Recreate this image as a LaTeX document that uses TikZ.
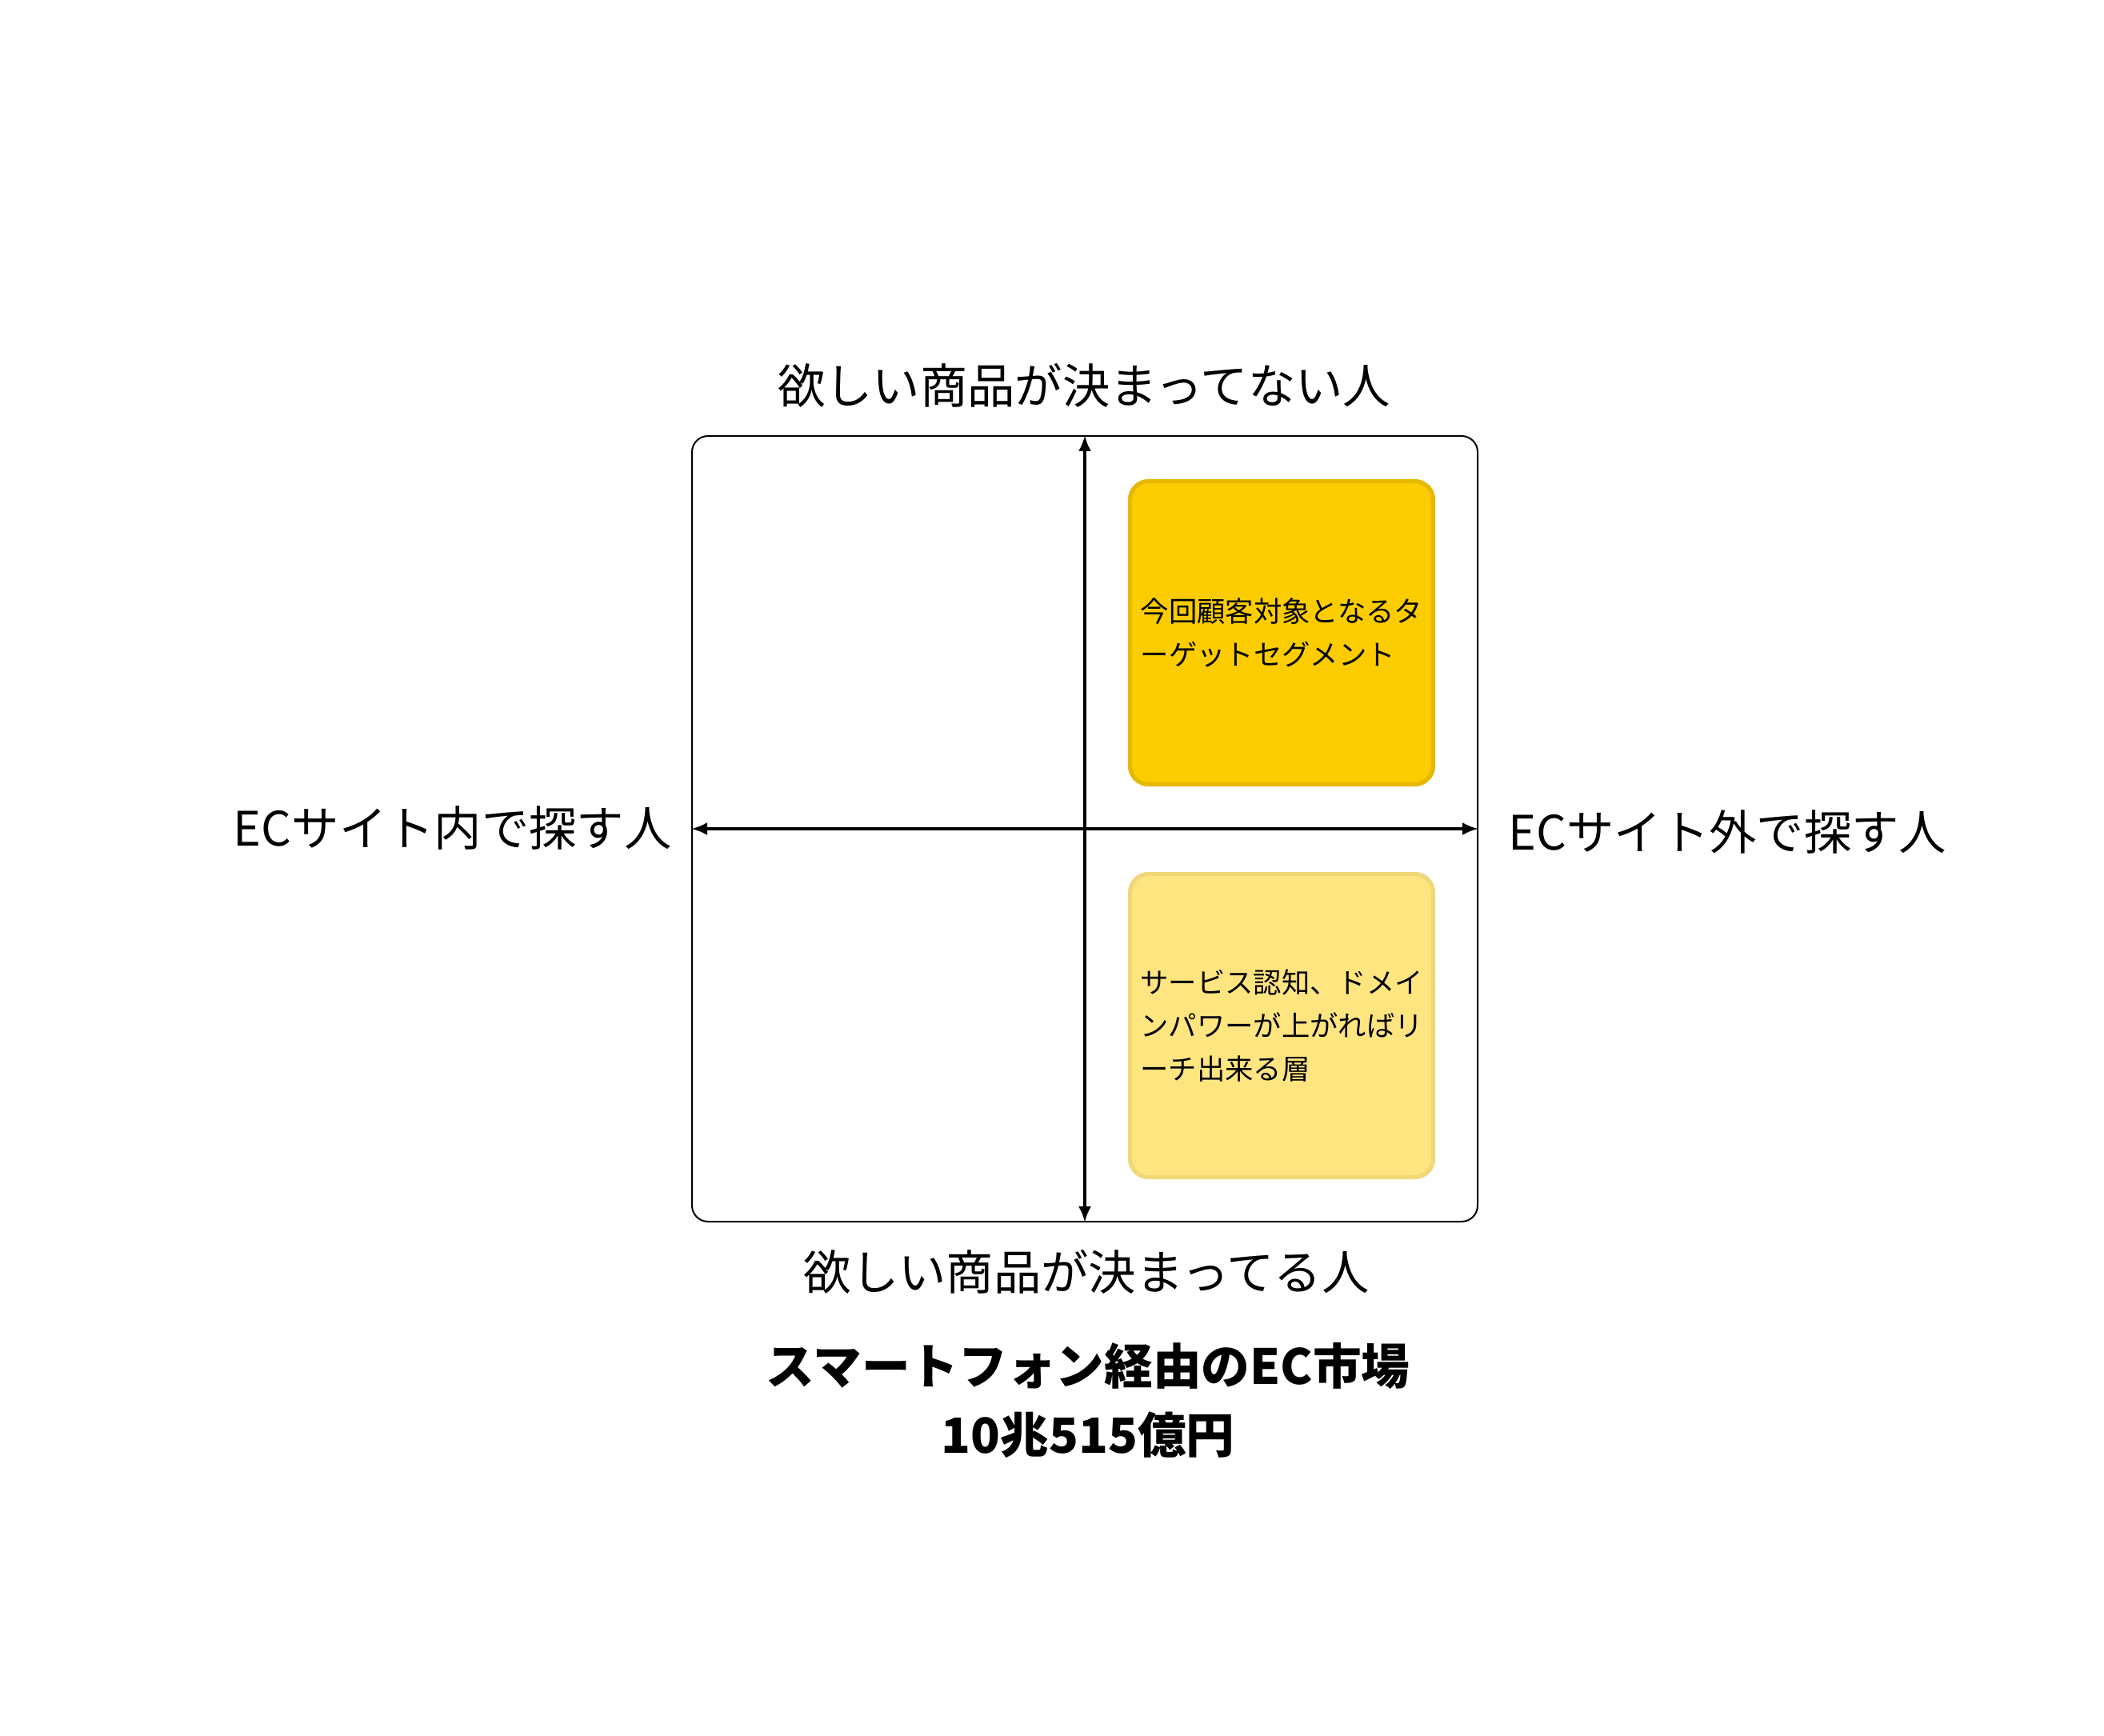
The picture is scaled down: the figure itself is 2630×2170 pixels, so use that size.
\documentclass[tikz,border=0pt]{standalone}
\usepackage{fontspec}
\newfontfamily\jp{Noto Sans CJK JP}
\usepackage{tikz}
\usetikzlibrary{arrows.meta}

\definecolor{segA}{RGB}{251,205,0}
\definecolor{segAline}{RGB}{230,184,0}
\definecolor{segB}{RGB}{255,229,128}
\definecolor{segBline}{RGB}{240,216,120}

\begin{document}
\begin{tikzpicture}[x=0.3pt, y=-0.3pt,
  every node/.style={font=\jp},
  lbl/.style={font=\jp\fontsize{17.8}{21}\selectfont, inner sep=0pt},
  big/.style={font=\jp\bfseries\fontsize{18.2}{25.8}\selectfont, align=center, inner sep=0pt},
  quad/.style={draw, line width=0.6pt, rounded corners=6pt, minimum width=294.6pt, minimum height=294.6pt},
  seg/.style={line width=1.6pt, rounded corners=7pt, minimum width=113.7pt, minimum height=113.7pt,
    align=left, inner sep=0pt, font=\jp\fontsize{10.6}{16.2}\selectfont},
  axis/.style={line width=1.1pt, {Latex[length=6pt,width=4.8pt]}-{Latex[length=6pt,width=4.8pt]}}
  ]
  \useasboundingbox (0,0) rectangle (2630,2170);

  \node[quad] (q) at (1356,1036) {};
  \node[seg, fill=segA, draw=segAline] (ta) at (1602,791) {今回顧客対象となるタ\\ーゲットセグメント};
  \node[seg, fill=segB, draw=segBline] (tb) at (1602,1282) {サービス認知、ドメイ\\ンパワーが上がればリ\\ーチ出来る層};

  \path[axis]
  (q.west) edge (q.east)
  (q.north) edge (q.south)
  ;

  \node[lbl] (up) at (1355,482) {欲しい商品が決まってない人};
  \node[lbl] (dn) at (1358,1590) {欲しい商品が決まってる人};
  \node[lbl, anchor=east] (in) at (840,1035) {ECサイト内で探す人};
  \node[lbl, anchor=west] (out) at (1885,1040) {ECサイト外で探す人};

  \node[big] (mkt) at (1360,1750) {スマートフォン経由のEC市場\\10兆515億円};
\end{tikzpicture}
\end{document}
